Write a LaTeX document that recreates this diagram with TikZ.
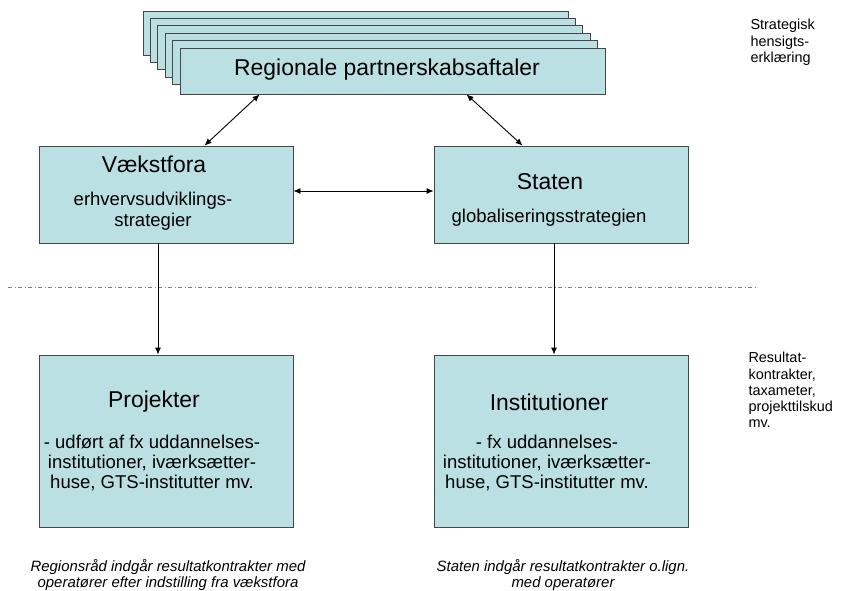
\documentclass[tikz,border=0pt]{standalone}
\usepackage{fontspec}
\setmainfont{Liberation Sans}
\usetikzlibrary{arrows.meta}
\definecolor{boxfill}{RGB}{186,224,227}
\definecolor{boxline}{RGB}{70,70,70}
\begin{document}
\begin{tikzpicture}[x=1bp,y=-1bp,
    box/.style={draw=boxline,fill=boxfill,line width=0.9bp,inner sep=0pt},
    smallbox/.style={box,minimum width=254bp,minimum height=97bp},
    bigbox/.style={box,minimum width=254bp,minimum height=172bp},
    title/.style={font=\fontsize{23}{27}\selectfont},
    body/.style={align=center,font=\fontsize{18.6}{20.5}\selectfont},
    note/.style={align=left,anchor=north west,font=\fontsize{14.5}{16.2}\selectfont},
    remark/.style={align=center,font=\fontsize{15}{17}\selectfont\itshape},
    arr/.style={line width=0.9bp,-{Latex[length=7bp,width=6bp]}},
    darr/.style={line width=0.9bp,{Latex[length=7bp,width=6bp]}-{Latex[length=7bp,width=6bp]}}]
  \useasboundingbox (0,0) rectangle (844,591);

  %% the stack of agreements
  \foreach \i in {0,...,4}
    \draw[box] (143+7.4*\i,11+7.4*\i) rectangle ++(425,44);
  \node[box,minimum width=425bp,minimum height=46bp] (rpa) at (392.5,71) {};
  \node[title] (rpatxt) at (387,70) {Regionale partnerskabsaftaler};

  %% the two middle boxes
  \node[smallbox] (vf) at (166,194.5) {};
  \node[title] (vftit) at (154,164) {Vækstfora};
  \node[body] (vftxt) at (153,211) {erhvervsudviklings-\\strategier};
  \node[smallbox] (st) at (561,194.5) {};
  \node[title] (sttit) at (550,182) {Staten};
  \node[body] (sttxt) at (549,218) {globaliseringsstrategien};

  %% dash-dot line
  \coordinate (sepl) at (8,287);
  \coordinate (sepr) at (756,287);
  \draw[gray,line width=0.8bp,dash pattern=on 4bp off 2.5bp on 1bp off 2.5bp] (sepl) -- (sepr);

  %% the two bottom boxes
  \node[bigbox] (pj) at (166,441) {};
  \node[title] (pjtit) at (154,402) {Projekter};
  \node[body] (pjtxt) at (152,463) {- udført af fx uddannelses-\\institutioner, iværksætter-\\huse, GTS-institutter mv.};
  \node[bigbox] (in) at (561,441) {};
  \node[title] (intit) at (549,402) {Institutioner};
  \node[body] (intxt) at (547,463) {- fx uddannelses-\\institutioner, iværksætter-\\huse, GTS-institutter mv.};

  %% arrows
  \draw[darr] ([xshift=166bp]vf.north west) -- ([xshift=80bp]rpa.south west);
  \draw[darr] ([xshift=287bp]rpa.south west) -- ([xshift=89bp]st.north west);
  \draw[darr] ([yshift=3.5bp]vf.east) -- ([yshift=3.5bp]st.west);
  \draw[arr] ([xshift=-8bp]vf.south) -- ([xshift=-8bp]pj.north);
  \draw[arr] ([xshift=-7bp]st.south) -- ([xshift=-7bp]in.north);

  %% notes on the right
  \node[note] (n1) at (747,16) {Strategisk\\hensigts-\\erklæring};
  \node[note] (n2) at (745,349) {Resultat-\\kontrakter,\\taxameter,\\projekttilskud\\mv.};

  %% remarks at the bottom
  \node[remark] (r1) at (168,575) {Regionsråd indgår resultatkontrakter med\\operatører efter indstilling fra vækstfora};
  \node[remark] (r2) at (563,575) {Staten indgår resultatkontrakter o.lign.\\med operatører};
\end{tikzpicture}
\end{document}
